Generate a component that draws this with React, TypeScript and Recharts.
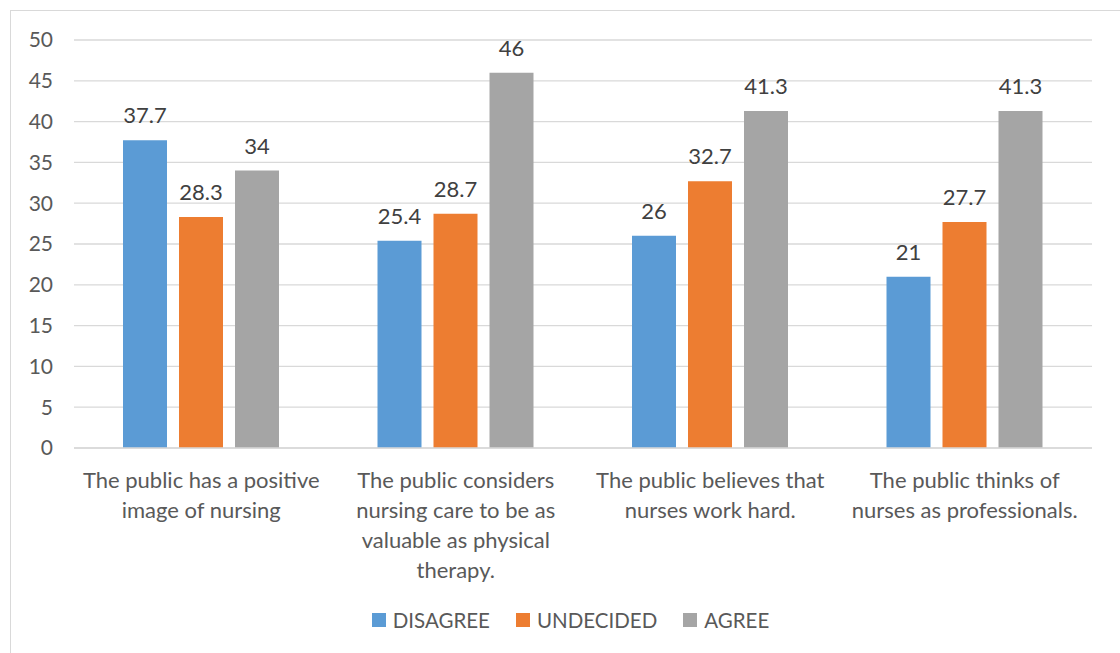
import React from 'react';
import { BarChart, Bar, XAxis, YAxis, CartesianGrid, Legend, LabelList } from 'recharts';

const categories = [
  'The public has a positive image of nursing',
  'The public considers nursing care to be as valuable as physical therapy.',
  'The public believes that nurses work hard.',
  'The public thinks of nurses as professionals.',
];
const disagree = [37.7, 25.4, 26, 21];
const undecided = [28.3, 28.7, 32.7, 27.7];
const agree = [34, 46, 41.3, 41.3];
const yTicks = [0, 5, 10, 15, 20, 25, 30, 35, 40, 45, 50];

const series = [
  { key: 'disagree', name: 'DISAGREE', color: '#5B9BD5' },
  { key: 'undecided', name: 'UNDECIDED', color: '#ED7D31' },
  { key: 'agree', name: 'AGREE', color: '#A5A5A5' },
];

const data = categories.map((name, i) => ({
  name,
  disagree: disagree[i],
  undecided: undecided[i],
  agree: agree[i],
}));

const FONT = 'Lato, "Open Sans", sans-serif';

function wrap(text: string, max: number) {
  const words = text.split(' ');
  const lines: string[] = [];
  let cur = '';
  words.forEach((w) => {
    const next = cur ? cur + ' ' + w : w;
    if (next.length > max && cur) {
      lines.push(cur);
      cur = w;
    } else {
      cur = next;
    }
  });
  if (cur) lines.push(cur);
  return lines;
}

function CategoryTick(props: any) {
  const { x, y, payload } = props;
  const lines = wrap(payload.value, 25);
  return (
    <text x={x} y={y} textAnchor="middle" fill="#595959" fontSize={22} fontFamily={FONT}>
      {lines.map((l, i) => (
        <tspan key={i} x={x} dy={i === 0 ? 38 : 30}>
          {l}
        </tspan>
      ))}
    </text>
  );
}

function LegendContent() {
  return (
    <div
      style={{
        height: 30,
        paddingLeft: 38,
        display: 'flex',
        justifyContent: 'center',
        alignItems: 'center',
        fontFamily: FONT,
        fontSize: 20.5,
        color: '#595959',
      }}
    >
      {series.map((s) => (
        <div key={s.key} style={{ display: 'flex', alignItems: 'center', margin: '0 13px' }}>
          <span style={{ width: 14, height: 14, background: s.color, marginRight: 7, display: 'inline-block' }} />
          <span>{s.name}</span>
        </div>
      ))}
    </div>
  );
}

export default function App() {
  return (
    <div
      style={{
        position: 'absolute',
        left: 10,
        top: 10,
        width: 1130,
        height: 660,
        border: '1px solid #D9D9D9',
        background: '#fff',
      }}
    >
      <BarChart
        width={1109}
        height={642}
        data={data}
        margin={{ top: 29, right: 28, left: 0, bottom: 18 }}
        barCategoryGap={49}
        barGap={12}
      >
        <CartesianGrid vertical={false} stroke="#D9D9D9" strokeWidth={1.3} />
        <XAxis
          dataKey="name"
          height={157}
          tick={<CategoryTick />}
          tickLine={false}
          tickSize={0}
          axisLine={{ stroke: '#D9D9D9', strokeWidth: 1.3 }}
          interval={0}
        />
        <YAxis
          width={63}
          domain={[0, 50]}
          ticks={yTicks}
          tickLine={false}
          tickSize={0}
          tickMargin={21}
          axisLine={false}
          tick={{ fill: '#595959', fontSize: 21, fontFamily: FONT }}
        />
        <Legend verticalAlign="bottom" content={<LegendContent />} />
        {series.map((s) => (
          <Bar key={s.key} dataKey={s.key} name={s.name} fill={s.color} isAnimationActive={false}>
            <LabelList
              dataKey={s.key}
              position="top"
              offset={17}
              fill="#404040"
              fontSize={22}
              fontFamily={FONT}
            />
          </Bar>
        ))}
      </BarChart>
    </div>
  );
}
